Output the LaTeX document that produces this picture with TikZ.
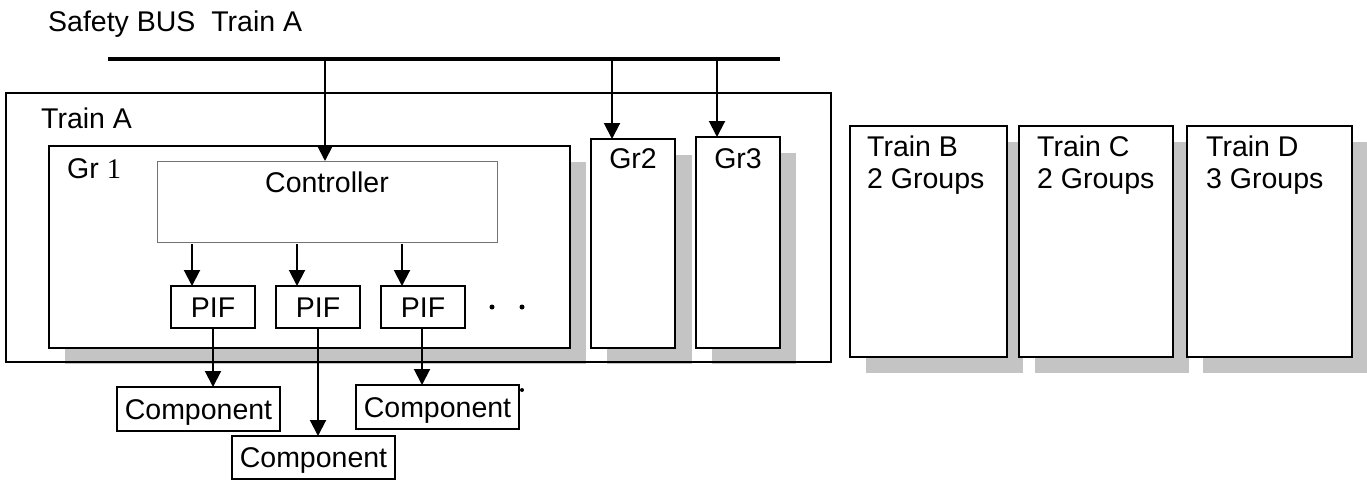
\documentclass[tikz,border=0pt]{standalone}
\usepackage{fontspec}
\setmainfont{Liberation Serif}
\setsansfont{Liberation Sans}
\usetikzlibrary{arrows.meta,calc}
\definecolor{shadowgray}{RGB}{196,196,196}
\definecolor{ctrlgray}{RGB}{115,115,115}
\tikzset{
  lbl/.style={font=\sffamily\fontsize{28.5}{33}\selectfont, inner sep=0pt, anchor=base west},
  clbl/.style={font=\sffamily\fontsize{28.5}{33}\selectfont, inner sep=0pt, anchor=base},
  box/.style={draw=black, line width=2pt, fill=white, rectangle, inner sep=0pt, outer sep=0pt},
  thinbox/.style={draw=black, line width=1.3pt, rectangle, inner sep=0pt, outer sep=0pt},
  ctrlbox/.style={draw=ctrlgray, line width=1pt, fill=white, rectangle, inner sep=0pt, outer sep=0pt},
  shadowfill/.style={fill=shadowgray, draw=none},
  arr/.style={line width=2pt, -{Triangle[length=16pt 0 0,width=16pt 0 0]}},
  busline/.style={line width=3.5pt},
}
\begin{document}
\begin{tikzpicture}[x=1pt,y=-1pt]
\useasboundingbox (0,0) rectangle (1367,480);

% shadows
\fill[shadowfill] (65,162) rectangle (586,364);
\fill[shadowfill] (607,155) rectangle (692,364);
\fill[shadowfill] (712,153) rectangle (796,364);
\fill[shadowfill] (866,142) rectangle (1023,373);
\fill[shadowfill] (1035,142) rectangle (1189,373);
\fill[shadowfill] (1203,142) rectangle (1367,373);

% title and bus
\node[lbl] (title) at (48,31) {Safety BUS\ \ Train A};
\coordinate (busL) at (108,59);
\coordinate (busR) at (780,59);
\draw[busline] (busL) -- (busR);

% Train A
\node[thinbox, minimum width=825pt, minimum height=269pt] (trainA) at (418.5,227.5) {};
\node[lbl] (trainAlbl) at (41,128) {Train A};

% groups
\node[box, minimum width=521pt, minimum height=202pt] (gr1) at (309.5,247) {};
\node[lbl] (gr1lbl) at (67,178) {Gr {\rmfamily 1}};
\node[box, minimum width=84pt, minimum height=209pt] (gr2) at (633,243.5) {};
\node[clbl] (gr2lbl) at (633,168) {Gr2};
\node[box, minimum width=84pt, minimum height=211pt] (gr3) at (738,242.5) {};
\node[clbl] (gr3lbl) at (738,168) {Gr3};

% controller
\node[ctrlbox, minimum width=340pt, minimum height=81pt] (ctrl) at (327,201.5) {};
\node[clbl] (ctrllbl) at (327,192) {Controller};

% PIFs
\node[box, minimum width=84pt, minimum height=42pt] (pif1) at (213,307) {};
\node[box, minimum width=84pt, minimum height=42pt] (pif2) at (318,307) {};
\node[box, minimum width=84pt, minimum height=42pt] (pif3) at (423,307) {};
\node[clbl] (pif1lbl) at (213,317) {PIF};
\node[clbl] (pif2lbl) at (318,317) {PIF};
\node[clbl] (pif3lbl) at (423,317) {PIF};
\fill (492,307) circle (2.5);
\fill (522,307) circle (2.5);

% components
\node[box, minimum width=163pt, minimum height=44pt] (comp1) at (198.5,409) {};
\node[clbl] (comp1lbl) at (198.5,419) {Component};
\node[box, minimum width=163pt, minimum height=43pt] (comp2) at (313.5,457.5) {};
\node[clbl] (comp2lbl) at (313.5,467) {Component};
\node[box, minimum width=163pt, minimum height=44pt] (comp3) at (437.5,407) {};
\node[clbl] (comp3lbl) at (437.5,417) {Component};
\fill (522,390) circle (2);

% bus arrows
\coordinate (b1) at (325,59);
\coordinate (b2) at (612,59);
\coordinate (b3) at (717,61);
\draw[arr] (b1) -- (b1 |- ctrl.north);
\draw[arr] (b2) -- (b2 |- gr2.north);
\draw[arr] (b3) -- (b3 |- gr3.north);

% controller to PIF arrows
\coordinate (c1) at (192,0);
\coordinate (c2) at (297,0);
\coordinate (c3) at (402,0);
\draw[arr] ($(ctrl.south -| c1)+(0,2)$) -- (c1 |- pif1.north);
\draw[arr] ($(ctrl.south -| c2)+(0,2)$) -- (c2 |- pif2.north);
\draw[arr] ($(ctrl.south -| c3)+(0,2)$) -- (c3 |- pif3.north);

% PIF to component arrows
\draw[arr] (pif1.south) -- (pif1.south |- comp1.north);
\draw[arr] (pif2.south) -- (pif2.south |- comp2.north);
\draw[arr] ($(pif3.south)+(-1,0)$) -- ($(pif3.south |- comp3.north)+(-1,0)$);

% other trains
\node[box, minimum width=157pt, minimum height=231pt] (trainB) at (928.5,241.5) {};
\node[box, minimum width=154pt, minimum height=231pt] (trainC) at (1096,241.5) {};
\node[box, minimum width=165pt, minimum height=231pt] (trainD) at (1269.5,241.5) {};
\node[lbl] (tB1) at (867,156) {Train B};
\node[lbl] (tB2) at (867,188) {2 Groups};
\node[lbl] (tC1) at (1037,156) {Train C};
\node[lbl] (tC2) at (1037,188) {2 Groups};
\node[lbl] (tD1) at (1206,156) {Train D};
\node[lbl] (tD2) at (1206,188) {3 Groups};
\end{tikzpicture}
\end{document}
